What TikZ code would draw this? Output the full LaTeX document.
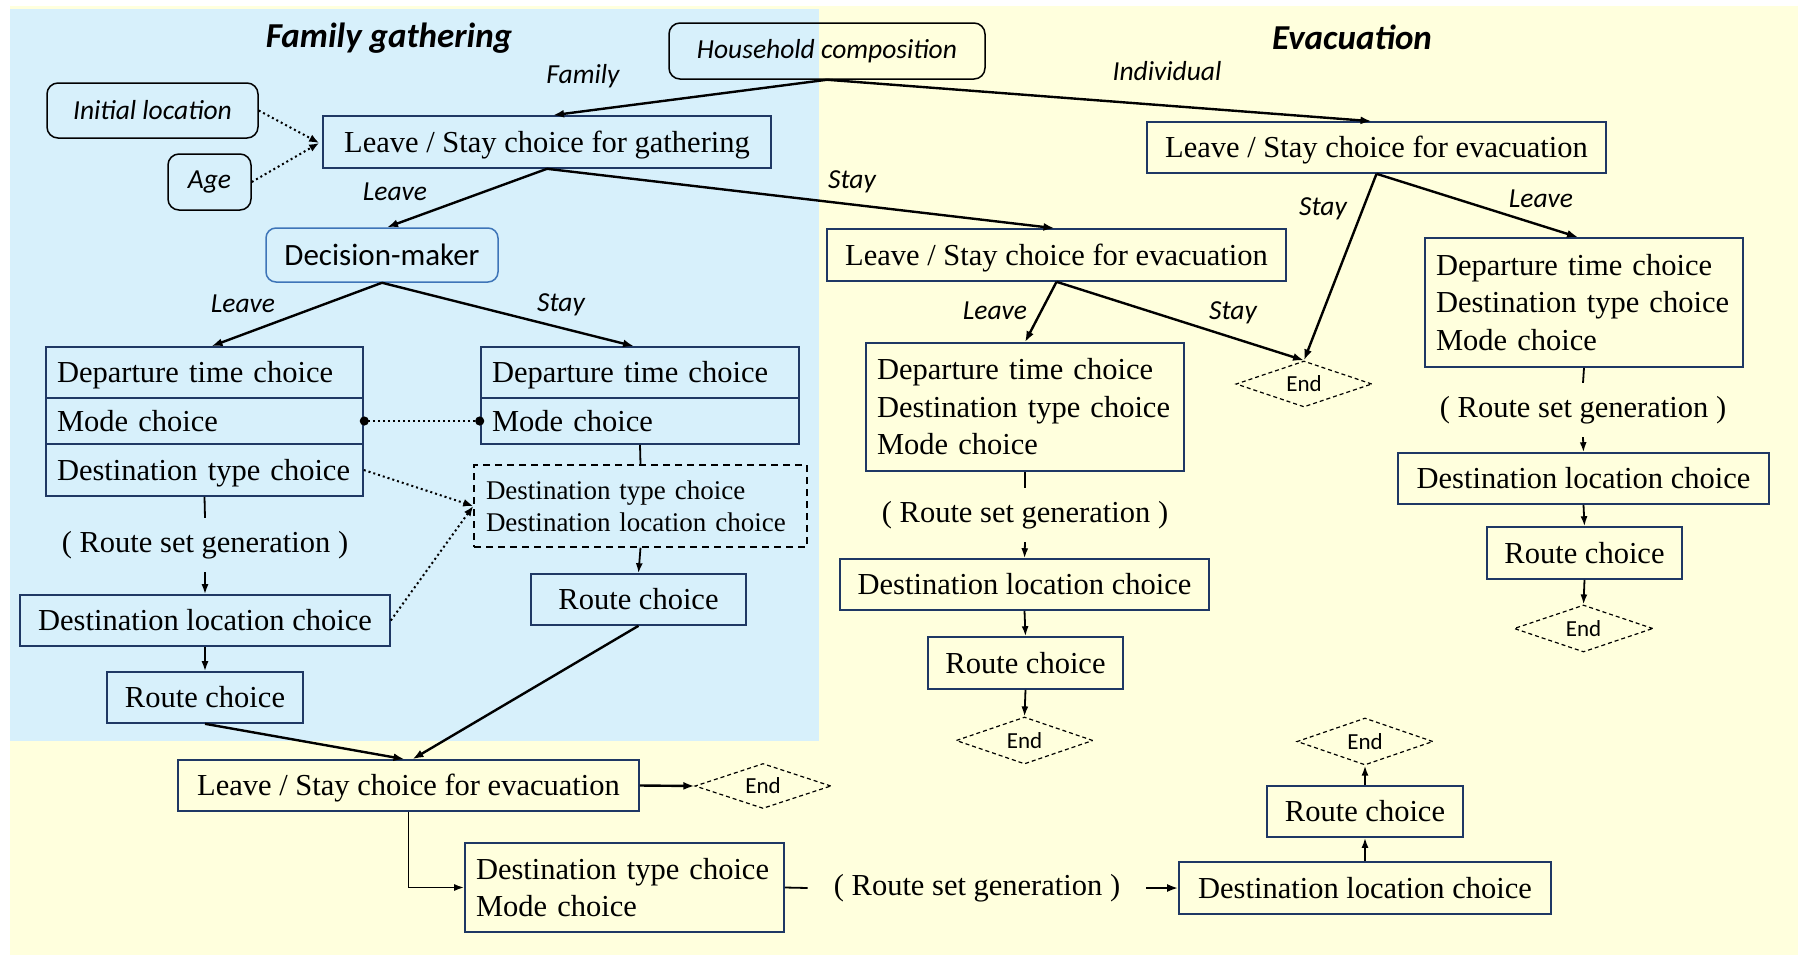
\documentclass[tikz,border=0pt]{standalone}
\usepackage{fontspec}
\setmainfont{Liberation Serif}
\newfontfamily\carlito{Carlito}
\usetikzlibrary{arrows.meta,calc,shapes.geometric}
\definecolor{bgblue}{RGB}{215,240,251}
\definecolor{bgyellow}{RGB}{255,255,221}
\definecolor{navy}{RGB}{31,56,100}
\definecolor{dmblue}{RGB}{62,117,184}
\newcommand\bxfont{\fontsize{30.5}{37.5}\selectfont}
\newcommand\smfont{\fontsize{27}{32}\selectfont}
\newcommand\lbfont{\carlito\itshape\fontsize{27.5}{33}\selectfont}
\newcommand\ttlfont{\carlito\bfseries\itshape\fontsize{35}{40}\selectfont}
\newcommand\fnfont{\carlito\fontsize{23}{26}\selectfont}
\newcommand\dmfont{\carlito\fontsize{31}{36}\selectfont}
\begin{document}
\begin{tikzpicture}[x=1pt,y=-1pt,
  oneline/.style={text height=24pt,text depth=4pt},
  choice/.style={draw=navy,line width=1.6pt,inner sep=0pt,font=\bxfont,align=center,oneline},
  stack/.style={draw=navy,line width=1.6pt,inner ysep=0pt,inner xsep=11pt,font=\bxfont,align=left},
  attr/.style={draw=black,line width=1.5pt,rounded corners=11pt,inner sep=0pt,font=\lbfont},
  endnode/.style={draw=black,line width=1.2pt,dash pattern=on 4pt off 3pt,shape=diamond,aspect=2.9,inner sep=0pt,font=\fnfont},
  rsg/.style={inner xsep=26pt,inner ysep=0pt,minimum height=54pt,font=\bxfont},
  lbl/.style={inner sep=0pt,font=\lbfont},
  ttl/.style={inner sep=0pt,font=\ttlfont},
  flow/.style={line width=2.4pt,-{Latex[length=11pt,width=8pt]}},
  thin/.style={line width=1.8pt,-{Latex[length=10pt,width=7pt]}},
  link/.style={line width=1.8pt},
  dots/.style={line width=2pt,dash pattern=on 2pt off 3pt,-{Latex[length=10pt,width=8pt]}}
]
\useasboundingbox (0,0) rectangle (1800,956);
% backgrounds of the two phases
\fill[bgyellow] (10,6) rectangle (1798,955);
\fill[bgblue] (10,9) rectangle (819,741);

% titles
\node[ttl] (tFam) at (389,38) {Family gathering};
\node[ttl] (tEva) at (1352,37) {Evacuation};

% household and attributes
\node[attr,minimum width=316pt,minimum height=56pt] (hh) at (827,51) {Household composition};
\node[attr,minimum width=211pt,minimum height=55pt] (init) at (152.5,110.5) {Initial location};
\node[attr,minimum width=83pt,minimum height=56pt] (age) at (209.5,182) {Age};

% gathering decision
\node[choice,minimum width=448pt,minimum height=52pt] (gath) at (547,142) {Leave / Stay choice for gathering};
\node[draw=dmblue,line width=1.5pt,rounded corners=10pt,inner sep=0pt,font=\dmfont,minimum width=232pt,minimum height=54pt] (dm) at (382,255) {Decision-maker};

% decision-maker leaves
\node[stack,oneline,text width=295pt,minimum height=51pt] (L1) at (204.5,372.5) {Departure time choice};
\node[stack,oneline,text width=295pt,minimum height=46pt] (L2) at (204.5,421) {Mode choice};
\node[stack,oneline,text width=295pt,minimum height=52pt] (L3) at (204.5,470) {Destination type choice};
\node[rsg] (rsg1) at (205,545) {( Route set generation )};
\node[choice,minimum width=370pt,minimum height=51pt] (dl1) at (205,620.5) {Destination location choice};
\node[choice,minimum width=196pt,minimum height=51pt] (rc1) at (205,697.5) {Route choice};

% decision-maker stays
\node[stack,oneline,text width=296pt,minimum height=51pt] (R1) at (640,372.5) {Departure time choice};
\node[stack,oneline,text width=296pt,minimum height=46pt] (R2) at (640,421) {Mode choice};
\node[draw=black,line width=1.5pt,dash pattern=on 7pt off 5pt,inner xsep=12pt,inner ysep=0pt,text width=309pt,minimum height=82pt,align=left,font=\smfont] (dash) at (640.5,506) {Destination type choice\\Destination location choice};
\node[choice,minimum width=215pt,minimum height=51pt] (rc2) at (638.5,599.5) {Route choice};

% evacuation after gathering
\node[choice,minimum width=461pt,minimum height=51pt] (evB) at (408.5,785.5) {Leave / Stay choice for evacuation};
\node[endnode,minimum width=136pt,minimum height=45pt] (endB) at (763,786) {End};
\node[stack,text width=297pt,minimum height=89pt] (dtm) at (624.5,887.5) {Destination type choice\\Mode choice};
\node[rsg] (rsg4) at (977,888) {( Route set generation )};
\node[choice,minimum width=372pt,minimum height=52pt] (dl4) at (1365,888) {Destination location choice};
\node[choice,minimum width=196pt,minimum height=51pt] (rc4) at (1365,811.5) {Route choice};
\node[endnode,minimum width=136pt,minimum height=47pt] (end4) at (1365,741.5) {End};

% evacuation of a household member who did not gather
\node[choice,minimum width=459pt,minimum height=52pt] (evM) at (1056.5,255) {Leave / Stay choice for evacuation};
\node[stack,text width=296pt,minimum height=128pt] (stM) at (1025,407) {Departure time choice\\Destination type choice\\Mode choice};
\node[endnode,minimum width=136pt,minimum height=46pt] (endM) at (1304,384) {End};
\node[rsg] (rsg2) at (1025,515) {( Route set generation )};
\node[choice,minimum width=369pt,minimum height=51pt] (dl2) at (1024.5,584.5) {Destination location choice};
\node[choice,minimum width=195pt,minimum height=52pt] (rc2m) at (1025.5,663) {Route choice};
\node[endnode,minimum width=137pt,minimum height=47pt] (end2) at (1024.5,740.5) {End};

% individual evacuation
\node[choice,minimum width=459pt,minimum height=51pt] (evR) at (1376.5,147.5) {Leave / Stay choice for evacuation};
\node[stack,text width=296pt,minimum height=129pt] (stR) at (1584,302.5) {Departure time choice\\Destination type choice\\Mode choice};
\node[rsg] (rsg3) at (1583,410) {( Route set generation )};
\node[choice,minimum width=371pt,minimum height=51pt] (dl3) at (1583.5,478.5) {Destination location choice};
\node[choice,minimum width=195pt,minimum height=52pt] (rc3) at (1584.5,553) {Route choice};
\node[endnode,minimum width=139pt,minimum height=47pt] (end3) at (1583.5,628.5) {End};

% branch labels
\node[lbl] (lFamily) at (583,76) {Family};
\node[lbl] (lIndiv) at (1167,71) {Individual};
\node[lbl] (lLeaveG) at (395,192) {Leave};
\node[lbl] (lStayG) at (852,182) {Stay};
\node[lbl] (lLeaveD) at (243,304) {Leave};
\node[lbl] (lStayD) at (561,305) {Stay};
\node[lbl] (lLeaveM) at (995,311) {Leave};
\node[lbl] (lStayM) at (1233,313) {Stay};
\node[lbl] (lStayR) at (1323,209) {Stay};
\node[lbl] (lLeaveR) at (1541,199) {Leave};

% connectors
\draw[flow] (hh.south) -- ($(gath.north)+(6,0)$);
\draw[flow] (hh.south) -- ($(evR.north)+(-5,0)$);
\draw[dots] (init.east) -- ($(gath.west)+(-3,1)$);
\draw[dots] (age.east) -- ($(gath.west)+(-3,1)$);
\draw[flow] (gath.south) -- ($(dm.north)+(5,0)$);
\draw[flow] (gath.south) -- ($(evM.north)+(-2,0)$);
\draw[flow] (dm.south) -- ($(L1.north)+(7,0)$);
\draw[flow] (dm.south) -- ($(R1.north)+(-6,0)$);
\draw[line width=2pt,dash pattern=on 2pt off 3pt,{Circle[length=9pt]}-{Circle[length=9pt]},shorten <=-4pt,shorten >=-4pt] (L2.east) -- (R2.west);
\draw[dots] (L3.east) -- (dash.west);
\draw[dots] (dl1.east) -- (dash.west);
\draw[link] (L3.south) -- (rsg1.north);
\draw[thin] (rsg1.south) -- (dl1.north);
\draw[thin] (dl1.south) -- (rc1.north);
\draw[link] (R2.south) -- (dash.north);
\draw[thin] (dash.south) -- (rc2.north);
\draw[flow] (rc1.south) -- ($(evB.north)+(-4,0)$);
\draw[flow] (rc2.south) -- ($(evB.north)+(4,0)$);
\draw[flow] (evB.east) -- (endB.west);
\draw[thin] (evB.south) |- (dtm.west);
\draw[link] (dtm.east) -- (rsg4.west);
\draw[flow] (rsg4.east) -- (dl4.west);
\draw[thin] (dl4.north) -- (rc4.south);
\draw[thin] (rc4.north) -- (end4.south);
\draw[flow] (evM.south) -- (stM.north);
\draw[flow] (evM.south) -- (endM.north);
\draw[link] (stM.south) -- (rsg2.north);
\draw[thin] (rsg2.south) -- (dl2.north);
\draw[thin] (dl2.south) -- (rc2m.north);
\draw[thin] (rc2m.south) -- (end2.north);
\draw[flow] (evR.south) -- (endM.north);
\draw[flow] (evR.south) -- ($(stR.north)+(-6,0)$);
\draw[link] (stR.south) -- (rsg3.north);
\draw[thin] (rsg3.south) -- (dl3.north);
\draw[thin] (dl3.south) -- (rc3.north);
\draw[thin] (rc3.south) -- (end3.north);
\end{tikzpicture}
\end{document}
